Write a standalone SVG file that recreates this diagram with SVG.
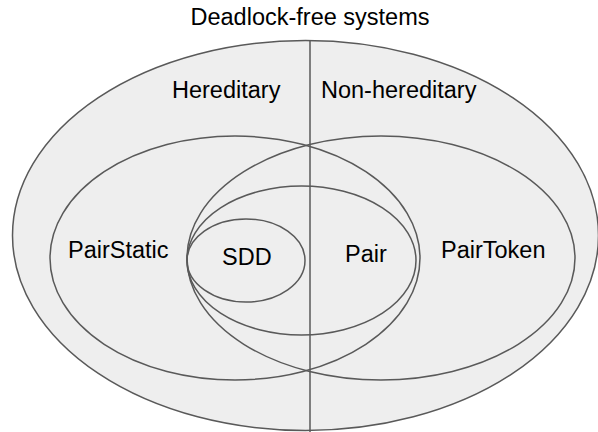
<svg xmlns="http://www.w3.org/2000/svg" width="598" height="432" viewBox="0 0 598 432">
  <style>
    .set { fill: none; stroke: #595959; stroke-width: 1.5; }
    .universe { fill: #eeeeee; stroke: #595959; stroke-width: 1.5; }
    .divider { stroke: #595959; stroke-width: 1.5; }
    .label { font-family: "Liberation Sans", Arial, sans-serif; font-size: 23.5px; fill: #000000; }
  </style>
  <rect x="0" y="0" width="598" height="432" fill="#ffffff"/>

  <!-- Universe of deadlock-free systems -->
  <g id="deadlock-free">
    <ellipse class="universe" cx="305.5" cy="235.5" rx="293" ry="195"/>
    <text class="label" x="310" y="25" text-anchor="middle">Deadlock-free systems</text>
  </g>

  <!-- Hereditary / non-hereditary split -->
  <g id="connectors">
    <line class="divider" x1="310" y1="40" x2="310" y2="432"/>
  </g>

  <g id="hereditary">
    <text class="label" x="172" y="98">Hereditary</text>
  </g>
  <g id="non-hereditary">
    <text class="label" x="321" y="98">Non-hereditary</text>
  </g>

  <g id="pairstatic">
    <ellipse class="set" cx="235" cy="258" rx="185" ry="122"/>
    <text class="label" x="68" y="258">PairStatic</text>
  </g>

  <g id="pairtoken">
    <ellipse class="set" cx="381" cy="258" rx="194" ry="122"/>
    <text class="label" x="441" y="258">PairToken</text>
  </g>

  <g id="pair">
    <ellipse class="set" cx="301.5" cy="260.5" rx="114.5" ry="74.5"/>
    <text class="label" x="345" y="262">Pair</text>
  </g>

  <g id="sdd">
    <ellipse class="set" cx="246" cy="260.5" rx="59" ry="41.5"/>
    <text class="label" x="222" y="265">SDD</text>
  </g>
</svg>
